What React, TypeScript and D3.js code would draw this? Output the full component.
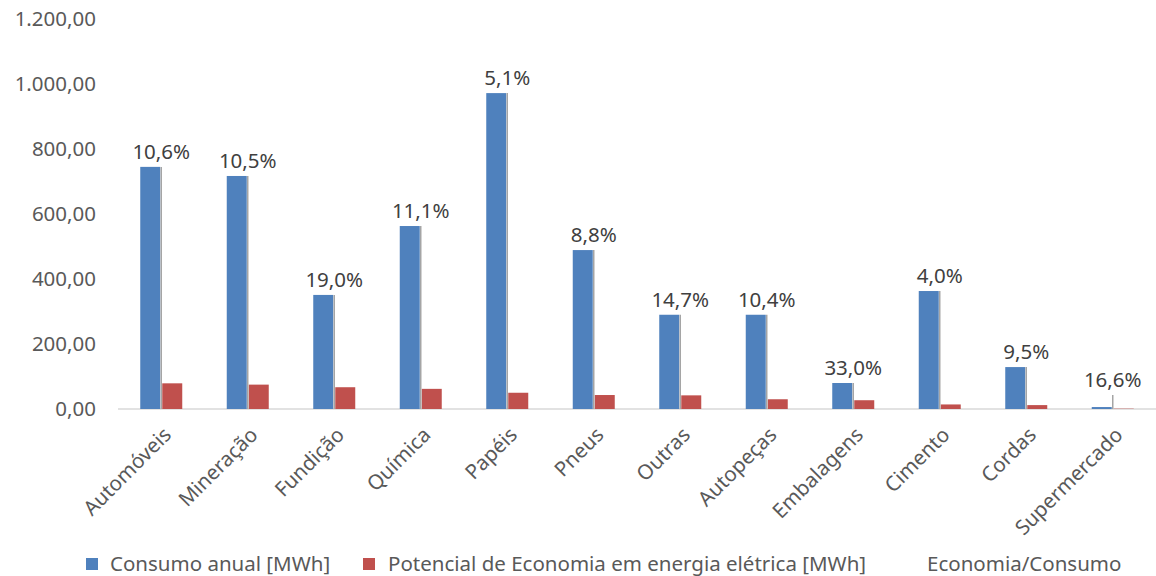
import React from 'react';
import * as d3 from 'd3';

const categories = ['Automóveis', 'Mineração', 'Fundição', 'Química', 'Papéis', 'Pneus', 'Outras', 'Autopeças', 'Embalagens', 'Cimento', 'Cordas', 'Supermercado'];
const consumo = [745, 717, 351, 563, 972, 489, 290, 290, 80, 363, 129, 6];
const potencial = [79, 75, 67, 62, 50, 43, 42, 30, 27, 14, 12, 1];
const economia = [10.6, 10.5, 19.0, 11.1, 5.1, 8.8, 14.7, 10.4, 33.0, 4.0, 9.5, 16.6];
const yTicks = [0, 200, 400, 600, 800, 1000, 1200];

const W = 1156;
const H = 576;
const FONT = '"Noto Sans", sans-serif';
const FS = 20.5;
const TEXT = '#595959';
const BLUE = '#4F81BD';
const RED = '#C0504D';
const GRAY = '#A5A5A5';

const fmtNum = (v: number) => {
    const s = d3.format(',.2f')(v);
    return s.replace(/,/g, '#').replace('.', ',').replace(/#/g, '.');
};
const fmtPct = (v: number) => v.toFixed(1).replace('.', ',') + '%';

export default function App() {
    const x = d3.scaleBand<string>().domain(categories).range([118, 1156]);
    const y = d3.scaleLinear().domain([0, 1200]).range([409, 19]);
    const barW = 20;
    const y0 = y(0);

    return (
        <svg width={W} height={H} style={{ position: 'absolute', left: 0, top: 0, background: '#fff' }}>
            {/* y axis labels */}
            {yTicks.map((t) => (
                <text key={t} x={96} y={y(t)} dy="0.35em" textAnchor="end" fontFamily={FONT} fontSize={FS} fill={TEXT}>
                    {fmtNum(t)}
                </text>
            ))}

            {/* baseline */}
            <line x1={118} x2={1156} y1={y0} y2={y0} stroke="#D9D9D9" strokeWidth={1.5} />

            {categories.map((c, i) => {
                const cx = (x(c) as number) + x.bandwidth() / 2;
                const lineTop = Math.min(y(consumo[i]), y0 - 14);
                return (
                    <g key={c}>
                        <rect x={cx - barW - 1} y={y(consumo[i])} width={barW} height={y0 - y(consumo[i])} fill={BLUE} />
                        <rect x={cx + 1} y={y(potencial[i])} width={barW} height={y0 - y(potencial[i])} fill={RED} />
                        <line x1={cx} x2={cx} y1={lineTop} y2={y0} stroke={GRAY} strokeWidth={1.5} />
                        <text x={cx} y={lineTop - 8} textAnchor="middle" fontFamily={FONT} fontSize={FS} fill="#404040">
                            {fmtPct(economia[i])}
                        </text>
                        <text
                            transform={`translate(${cx + 1},${y0 + 17}) rotate(-45)`}
                            textAnchor="end"
                            dy="0.7em"
                            fontFamily={FONT}
                            fontSize={FS}
                            fill={TEXT}
                        >
                            {c}
                        </text>
                    </g>
                );
            })}

            {/* legend */}
            <g fontFamily={FONT} fontSize={FS} fill={TEXT}>
                <rect x={86} y={558} width={12} height={12} fill={BLUE} />
                <text x={110} y={564} dy="0.35em">Consumo anual [MWh]</text>
                <rect x={363} y={558} width={12} height={12} fill={RED} />
                <text x={388} y={564} dy="0.35em">Potencial de Economia em energia elétrica [MWh]</text>
                <text x={927} y={564} dy="0.35em">Economia/Consumo</text>
            </g>
        </svg>
    );
}
